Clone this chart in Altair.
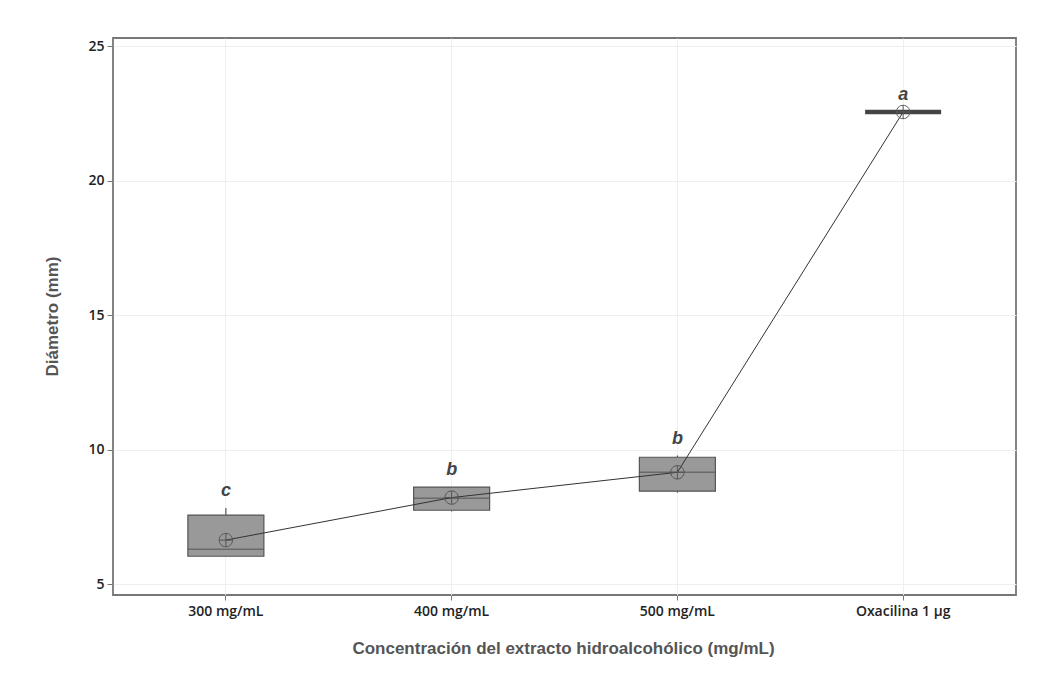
import altair as alt
import pandas as pd

categories = ["300 mg/mL", "400 mg/mL", "500 mg/mL", "Oxacilina 1 µg"]
q1 = [6.04, 7.75, 8.46, 22.55]
median = [6.30, 8.20, 9.16, 22.55]
q3 = [7.57, 8.61, 9.72, 22.55]
whisker_low = [6.04, 7.70, 8.40, 22.55]
whisker_high = [7.83, 8.61, 9.78, 22.55]
mean = [6.64, 8.22, 9.16, 22.55]
letters = ["c", "b", "b", "a"]

df = pd.DataFrame({
    "cat": categories, "q1": q1, "med": median, "q3": q3,
    "wlo": whisker_low, "whi": whisker_high, "mean": mean, "letter": letters,
})
box_df = df[df["q3"] > df["q1"]]
flat_df = df[df["q3"] == df["q1"]]

x = alt.X("cat:N", sort=categories, title="Concentración del extracto hidroalcohólico (mg/mL)",
          scale=alt.Scale(paddingInner=0, paddingOuter=0),
          axis=alt.Axis(labelAngle=0, labelFont="Open Sans", labelFontSize=14, labelColor="#222",
                        labelFontWeight=600,
                        labelPadding=4, tickSize=5, tickColor="#777", domain=False,
                        grid=True, gridColor="#efefef",
                        titleFont="Liberation Sans", titleFontSize=17, titleFontWeight="bold",
                        titleColor="#555", titleX=450, titleY=53, titleBaseline="middle",
                        titleAlign="center"))
yscale = alt.Scale(domain=[4.6, 25.3], nice=False, zero=False)
yaxis = alt.Axis(values=[5, 10, 15, 20, 25], labelFont="Open Sans", labelFontSize=14,
                 labelColor="#222", labelFontWeight=600, labelPadding=3, tickSize=6,
                 tickColor="#777",
                 domain=False, grid=True, gridColor="#efefef",
                 title="Diámetro (mm)", titleFont="Liberation Sans", titleFontSize=17,
                 titleFontWeight="bold", titleColor="#555", titleX=-61, titleY=278,
                 titleBaseline="middle", titleAlign="center", titleAngle=-90)

base = alt.Chart(df).encode(x=x)

whisk_hi = alt.Chart(box_df).mark_rule(color="#555", strokeWidth=1.2).encode(
    x=x, y=alt.Y("q3:Q", scale=yscale, axis=yaxis), y2="whi:Q")
whisk_lo = alt.Chart(box_df).mark_rule(color="#555", strokeWidth=1.2).encode(
    x=x, y=alt.Y("wlo:Q", scale=yscale), y2="q1:Q")
boxes = alt.Chart(box_df).mark_bar(size=76, color="#999999", stroke="#555555",
                                   strokeWidth=1.2).encode(
    x=x, y=alt.Y("q1:Q", scale=yscale), y2="q3:Q")
medians = alt.Chart(box_df).mark_tick(size=76, thickness=1.5, color="#555555",
                                      orient="horizontal").encode(
    x=x, y=alt.Y("med:Q", scale=yscale))
flat = alt.Chart(flat_df).mark_tick(size=76, thickness=4.5, color="#444444", opacity=1,
                                    orient="horizontal").encode(
    x=x, y=alt.Y("med:Q", scale=yscale))
line = base.mark_line(color="#333333", strokeWidth=1).encode(y=alt.Y("mean:Q", scale=yscale))
pts = base.mark_point(
    shape="M-1,0A1,1 0 1,0 1,0A1,1 0 1,0 -1,0M-1,0H1M0,-1V1",
    size=180, filled=False, color="#555555", strokeWidth=1, opacity=1,
).encode(y=alt.Y("mean:Q", scale=yscale))
labels = base.mark_text(font="Liberation Sans", fontSize=18, fontWeight="bold",
                        fontStyle="italic", color="#444", baseline="middle",
                        dy=-17).encode(y=alt.Y("whi:Q", scale=yscale), text="letter:N")

chart = alt.layer(whisk_hi, whisk_lo, boxes, medians, flat, line, pts, labels).properties(
    width=903, height=557,
    autosize=alt.AutoSizeParams(type="none"),
    padding={"left": 105, "top": 30, "right": 30, "bottom": 70},
).configure(background="white").configure_view(stroke="#777777", strokeWidth=1.8)

chart.save("out.html", embed_options={"renderer": "svg", "actions": False})
